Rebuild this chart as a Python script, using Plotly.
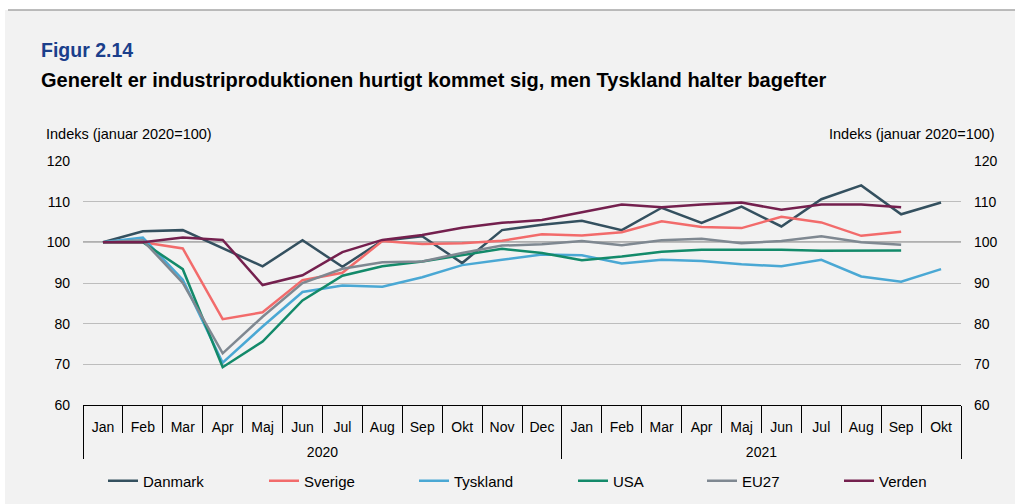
import plotly.graph_objects as go

months = ["Jan", "Feb", "Mar", "Apr", "Maj", "Jun", "Jul", "Aug", "Sep", "Okt", "Nov", "Dec",
          "Jan", "Feb", "Mar", "Apr", "Maj", "Jun", "Jul", "Aug", "Sep", "Okt"]
year_labels = ["2020", "2021"]
year_counts = [12, 10]

danmark = [100, 102.7, 103.0, 98.5, 94.1, 100.5, 94.0, 100.4, 101.5, 94.9, 103.0, 104.3,
           105.3, 103.0, 108.5, 104.8, 108.8, 103.9, 110.6, 114.0, 106.9, 109.8]
sverige = [100, 100, 98.5, 81.1, 82.8, 90.7, 92.5, 100.3, 99.6, 99.8, 100.4, 102.0,
           101.7, 102.5, 105.2, 103.8, 103.5, 106.3, 104.9, 101.6, 102.6, None]
tyskland = [100, 101.2, 90.8, 70.4, 79.3, 87.8, 89.4, 89.1, 91.4, 94.4, 95.7, 97.0,
            96.8, 94.8, 95.7, 95.4, 94.6, 94.1, 95.7, 91.6, 90.3, 93.4]
usa = [100, 100, 93.4, 69.3, 75.6, 85.7, 91.8, 94.1, 95.3, 96.9, 98.4, 97.4,
       95.6, 96.5, 97.7, 98.2, 98.2, 98.2, 97.9, 98.0, 98.0, None]
eu27 = [100, 100.5, 90.0, 72.7, 81.7, 90.0, 93.5, 95.1, 95.3, 97.4, 99.2, 99.5,
        100.3, 99.3, 100.5, 100.9, 99.8, 100.3, 101.5, 100.0, 99.4, None]
verden = [100, 100, 101.2, 100.6, 89.5, 91.9, 97.6, 100.6, 101.8, 103.6, 104.8, 105.5,
          107.4, 109.3, 108.6, 109.3, 109.8, 108.0, 109.3, 109.3, 108.6, None]

series = [
    ("Danmark", danmark, "#34505f"),
    ("Sverige", sverige, "#f26b6b"),
    ("Tyskland", tyskland, "#4aa8d4"),
    ("USA", usa, "#138a6a"),
    ("EU27", eu27, "#7f8891"),
    ("Verden", verden, "#74204e"),
]
legend_x_px = [144, 305, 455, 614, 743, 880]

FONT = "Liberation Sans, Arial, sans-serif"
W, H = 1015, 504
L, R, T, B = 83, 961, 161, 405
pw, ph = R - L, B - T

def px(x):
    return (x - L) / pw

def py(y):
    return (B - y) / ph

idx = list(range(len(months)))
# year group boundaries and centres (in category index units)
bounds = [-0.5]
centres = []
for c in year_counts:
    centres.append(bounds[-1] + c / 2)
    bounds.append(bounds[-1] + c)

fig = go.Figure()
layout_legends = {}
for i, (name, vals, color) in enumerate(series):
    lname = "legend" if i == 0 else f"legend{i+1}"
    fig.add_trace(go.Scatter(
        x=idx, y=vals, name=name, mode="lines",
        line=dict(color=color, width=2.5), legend=lname,
    ))
    layout_legends[lname] = dict(
        x=px(legend_x_px[i] - 41), xanchor="left", y=py(481), yanchor="middle",
        bgcolor="rgba(0,0,0,0)", font=dict(family=FONT, size=15, color="#000"),
        itemwidth=30,
    )

fig.add_trace(go.Scatter(x=[0], y=[None], xaxis="x2", yaxis="y2",
                         showlegend=False, hoverinfo="skip"))

fig.update_layout(
    width=W, height=H,
    margin=dict(l=L, r=W - R, t=T, b=H - B, autoexpand=False),
    paper_bgcolor="#f2f2f2", plot_bgcolor="rgba(0,0,0,0)",
    font=dict(family=FONT, size=14, color="#000"),
    showlegend=True,
    **layout_legends,
)

TICKFONT = dict(family=FONT, size=14, color="#000")
fig.update_layout(
    xaxis=dict(
        range=[-0.5, len(months) - 0.5], tickmode="array", tickvals=idx, ticktext=months,
        ticks="", showgrid=False, zeroline=False, ticklabelstandoff=9,
        showline=True, linecolor="#000", linewidth=1, tickfont=TICKFONT,
        minor=dict(tickmode="array", tickvals=[i - 0.5 for i in range(len(months) + 1)],
                   ticks="outside", ticklen=27, tickcolor="#000", tickwidth=1, showgrid=False),
    ),
    xaxis2=dict(
        overlaying="x", anchor="y", side="bottom",
        range=[-0.5, len(months) - 0.5], tickmode="array", tickvals=centres, ticktext=year_labels,
        ticks="", showgrid=False, zeroline=False, ticklabelstandoff=37,
        showline=False, tickfont=TICKFONT,
        minor=dict(tickmode="array", tickvals=bounds,
                   ticks="outside", ticklen=53, tickcolor="#000", tickwidth=1, showgrid=False),
    ),
    yaxis=dict(
        range=[60, 120], dtick=10, showgrid=True, gridcolor="#bdbdbd", gridwidth=1,
        zeroline=False, ticks="", ticklabelstandoff=12, tickfont=TICKFONT,
    ),
    yaxis2=dict(
        overlaying="y", side="right", range=[60, 120], dtick=10, showgrid=False,
        zeroline=False, ticks="", ticklabelstandoff=12, tickfont=TICKFONT,
    ),
)

# reference line at 100
fig.add_shape(type="line", xref="paper", yref="y", x0=0, x1=1, y0=100, y1=100,
              line=dict(color="#6e6e6e", width=1.5), layer="below")

# white frame strip at top/left
fig.add_shape(type="rect", xref="paper", yref="paper", x0=px(-5), x1=px(W + 5),
              y0=py(10), y1=py(-5), fillcolor="#ffffff", line=dict(width=0), layer="above")
fig.add_shape(type="rect", xref="paper", yref="paper", x0=px(-5), x1=px(5),
              y0=py(W), y1=py(-5), fillcolor="#ffffff", line=dict(width=0), layer="above")
fig.add_shape(type="line", xref="paper", yref="paper", x0=px(8), x1=px(W + 5),
              y0=py(10), y1=py(10), line=dict(color="#a6a6a6", width=1.5), layer="above")

ann = [
    dict(text="<b>Figur 2.14</b>", x=px(39), y=py(50), xanchor="left", yanchor="middle",
         font=dict(family=FONT, size=19.5, color="#1b3f8b")),
    dict(text="<b>Generelt er industriproduktionen hurtigt kommet sig, men Tyskland halter bagefter</b>",
         x=px(39), y=py(80), xanchor="left", yanchor="middle",
         font=dict(family=FONT, size=20, color="#000")),
    dict(text="Indeks (januar 2020=100)", x=px(44), y=py(134), xanchor="left", yanchor="middle",
         font=dict(family=FONT, size=14.5, color="#000")),
    dict(text="Indeks (januar 2020=100)", x=px(997), y=py(134), xanchor="right", yanchor="middle",
         font=dict(family=FONT, size=14.5, color="#000")),
]
for a in ann:
    fig.add_annotation(xref="paper", yref="paper", showarrow=False, **a)

fig.write_html("out.html", config={"displayModeBar": False},
               post_script="document.body.style.margin='0';document.body.style.padding='0';")
